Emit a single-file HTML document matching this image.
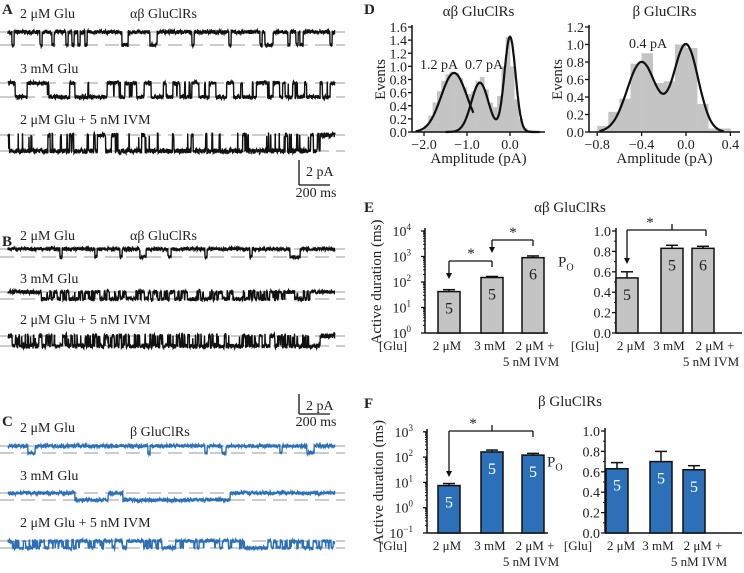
<!DOCTYPE html>
<html><head><meta charset="utf-8"><style>
body{margin:0;background:#fff}
svg{display:block;font-family:"Liberation Serif",serif}
text{fill:#222}
</style></head><body>
<svg id="fig" width="744" height="573" viewBox="0 0 744 573" xmlns="http://www.w3.org/2000/svg"></svg>
<script>
// ---------- DATA ----------
const traceRows = [
 {label:"2 μM Glu", ly:18, y0:32, y1:45, color:"#111", noise:4, sw:0.1, segs:[[12,14,1],[40,42,1],[52,54,1],[66,68,1],[72,74,1],[78,80,1],[85,87,1],[122,128,1],[150,157,1],[192,194,1],[229,231,1],[260,262,1],[265,273,1],[288,290,1],[296,298,1],[300,303,1],[330,332,1]]},
 {label:"3 mM Glu", ly:73, y0:83, y1:97, color:"#111", noise:4, sw:0.12, segs:[[10,27,0.9],[45,100,0.6],[100,133,0.3],[133,145,0.9],[145,155,0.5],[155,210,0.55],[210,270,0.7],[270,300,0.6],[300,322,0.5],[322,330,0.8]]},
 {label:"2 μM Glu + 5 nM IVM", ly:124, y0:135, y1:151, color:"#111", noise:5, sw:0.3, segs:[[8,97,0.85],[97,103,0.2],[103,118,0.4],[118,320,0.85]]},
 {label:"2 μM Glu", ly:240, y0:249, y1:257, color:"#111", noise:3.5, sw:0.1, segs:[[60,62,1],[95,97,1],[120,122,1],[140,146,1],[168,171,1],[205,207,1],[250,252,1],[290,300,1]]},
 {label:"3 mM Glu", ly:283, y0:292, y1:299, color:"#111", noise:4, sw:0.25, segs:[[40,120,0.6],[120,160,0.4],[160,310,0.55]]},
 {label:"2 μM Glu + 5 nM IVM", ly:324, y0:336, y1:346, color:"#111", noise:5, sw:0.35, segs:[[8,320,0.7]]},
 {label:"2 μM Glu", ly:432, y0:446, y1:453, color:"#2b70b8", noise:3.5, sw:0.1, segs:[[28,35,1],[148,150,1],[205,207,1],[222,226,1],[280,282,1],[307,314,1]]},
 {label:"3 mM Glu", ly:480, y0:493, y1:500, color:"#2b70b8", noise:3.5, sw:0.1, segs:[[75,108,1],[123,230,1]]},
 {label:"2 μM Glu + 5 nM IVM", ly:527, y0:541, y1:548, color:"#2b70b8", noise:3.5, sw:0.3, segs:[[12,70,0.5],[70,120,0.35],[120,160,0.3],[160,180,0.9],[180,245,0.2],[245,265,1],[265,300,0.3],[300,333,0.5]]}
];
const histLeftBins = [-2.2,-2.1,-2.0,-1.9,-1.8,-1.7,-1.6,-1.5,-1.4,-1.3,-1.2,-1.1,-1.0,-0.9,-0.8,-0.7,-0.6,-0.5,-0.4,-0.3,-0.2,-0.1,0.0,0.1,0.2,0.3,0.4,0.5];
const histLeftVals = [0.0,0.02,0.1,0.25,0.45,0.62,0.78,0.88,0.92,0.9,0.82,0.68,0.58,0.62,0.78,0.84,0.65,0.45,0.38,0.55,1.0,1.45,1.0,0.5,0.2,0.06,0.03,0.02];
const histRightBins = [-0.8,-0.7,-0.6,-0.5,-0.4,-0.3,-0.2,-0.1,0.0,0.1,0.2,0.3];
const histRightVals = [0.07,0.23,0.38,0.78,0.9,0.56,0.58,1.0,0.96,0.32,0.04,0.04];
const fitLeftA = [[0.9,-1.3,0.3]];
const fitLeftB = [[0.75,-0.7,0.2],[1.45,0.0,0.13]];
const fitRight = [[0.8,-0.4,0.13],[1.0,0.0,0.11]];
const catLabels = ["2 μM","3 mM","2 μM +"];
const durAB = [42,150,900], durABerr = [50,165,1050], nAB=[5,5,6];
const poAB = [0.54,0.83,0.83], poABerr = [0.60,0.86,0.85];
const durB = [7.5,160,120], durBerr = [9,190,140], nB=[5,5,5];
const poB = [0.63,0.70,0.62], poBerr = [0.69,0.80,0.66];

// ---------- HELPERS ----------
const svg=document.getElementById('fig');const NS="http://www.w3.org/2000/svg";
function el(tag,attrs,parent){const e=document.createElementNS(NS,tag);for(const k in attrs)e.setAttribute(k,attrs[k]);(parent||svg).appendChild(e);return e;}
function txt(x,y,s,size,anchor,name,parent,extra){const t=el('text',Object.assign({x:x,y:y,'font-size':size,'text-anchor':anchor||'start'},extra||{}),parent);t.textContent=s;


return t;}
function line(x1,y1,x2,y2,w,c,parent,extra){return el('line',Object.assign({x1:x1,y1:y1,x2:x2,y2:y2,stroke:c||'#111','stroke-width':w||1.5},extra||{}),parent);}
let seed=12345;function rnd(){seed|=0;seed=seed+0x6D2B79F5|0;let t=Math.imul(seed^seed>>>15,1|seed);t=t+Math.imul(t^t>>>7,61|t)^t;return((t^t>>>14)>>>0)/4294967296;}

[["A",2,14],["B",2,246],["C",2,426],["D",364,14],["E",364,212],["F",364,408]].forEach(p=>{
 txt(p[1],p[2],p[0],15,'start','panel-letter-'+p[0].toLowerCase(),null,{'font-weight':'bold'});
});
txt(130,18,"αβ GluClRs",14,'start','trace-title-ab');
txt(130,240,"αβ GluClRs",14,'start','trace-title-ab-b');
txt(130,436,"β GluClRs",14,'start','trace-title-b');

// ---------- TRACES ----------
traceRows.forEach((r,i)=>{
 const g=el('g',{});
 
 
 line(0,r.y0,345,r.y0,1,'#999',g,{'stroke-dasharray':'14 7'});
 line(0,r.y1,345,r.y1,1,'#999',g,{'stroke-dasharray':'14 7'});
 txt(20,r.ly,r.label,14,'start','trace-label',g);
 let pts=[],state=0;
 for(let x=8;x<=335;x+=0.25){
  let p=0;r.segs.forEach(s=>{if(x>=s[0]&&x<=s[1])p=s[2];});
  if(p===1)state=1;else if(p===0)state=0;else if(rnd()<r.sw)state=rnd()<p?1:0;
  const y=(state?r.y1:r.y0)+r.noise*(rnd()-0.5);
  pts.push(x.toFixed(2)+','+y.toFixed(1));
 }
 const pl=el('polyline',{points:pts.join(' '),fill:'none',stroke:r.color,'stroke-width':1.4},g);
 
 
});
[[160,185,197,"a"],[394,414,426,"b"]].forEach(s=>{
 const g=el('g',{});
 
 
 line(299,s[0],299,s[1],1.3,'#111',g);line(299,s[1],330,s[1],1.3,'#111',g);
 txt(306,s[0]+16,"2 pA",14,'start','scale-label-pa',g);
 txt(316,s[2],"200 ms",14,'middle','scale-label-ms',g);
});

// ---------- D HISTOGRAMS ----------
function gauss(arr,x){return arr.reduce((a,g)=>a+g[0]*Math.exp(-0.5*((x-g[1])/g[2])**2),0);}
function histPanel(o){
 const g=el('g',{});
 
 
 const X=v=>o.x0+(v-o.xmin)*o.xs, Y=v=>o.yb-(v/o.ymax)*(o.yb-o.yt);
 o.bins.forEach((b,i)=>{const r=el('rect',{x:X(b),y:Y(o.vals[i]),width:X(b+o.bw)-X(b)+0.3,height:o.yb-Y(o.vals[i]),fill:'#c4c4c4'},g);
  
  });
 o.fits.forEach(f=>{let pts=[];for(let x=f.from;x<=f.to;x+=0.01)pts.push(X(x).toFixed(1)+','+Y(gauss(f.p,x)).toFixed(1));
  const p=el('polyline',{points:pts.join(' '),fill:'none',stroke:'#111','stroke-width':2.2},g);
  
  });
 line(o.ax,o.yt-2,o.ax,o.yb,1.5,'#111',g);line(o.ax,o.yb,o.axEnd,o.yb,1.5,'#111',g);
 for(let v=0;v<=o.ymax+1e-9;v+=0.2){line(o.ax-4,Y(v),o.ax,Y(v),1.3,'#111',g);txt(o.ax-5,Y(v)+5,v.toFixed(1),14,'end','y-tick-label',g);}
 o.xt.forEach(v=>{line(X(v),o.yb,X(v),o.yb+4,1.3,'#111',g);txt(X(v),o.yb+17,(v<0?'−':'')+Math.abs(v).toFixed(1),14,'middle','x-tick-label',g);});
 txt((o.ax+o.axEnd)/2,o.yb+31,"Amplitude (pA)",15,'middle','x-axis-title',g);
 txt(o.ax-27,(o.yt+o.yb)/2,"Events",15,'middle','y-axis-title',g,{transform:`rotate(-90 ${o.ax-27} ${(o.yt+o.yb)/2})`});
 txt((o.ax+o.axEnd)/2,16,o.title,15,'middle','panel-title',g);
 o.ann.forEach(a=>txt(a[0],a[1],a[2],14,'start','peak-annotation',g));
}
histPanel({name:'histogram-ab',x0:510,xmin:0,xs:43,yb:132,yt:27,ymax:1.6,ax:412,axEnd:545,bins:histLeftBins,vals:histLeftVals,bw:0.1,
 fits:[{p:fitLeftA,from:-2.2,to:-0.85},{p:fitLeftB,from:-1.5,to:0.7}],xt:[-2,-1,0],title:"αβ GluClRs",ann:[[420,69,"1.2 pA"],[465,69,"0.7 pA"]]});
histPanel({name:'histogram-b',x0:686,xmin:0,xs:111,yb:132,yt:27,ymax:1.2,ax:589,axEnd:740,bins:histRightBins,vals:histRightVals,bw:0.1,
 fits:[{p:fitRight,from:-0.78,to:0.35}],xt:[-0.8,-0.4,0,0.4],title:"β GluClRs",ann:[[629,48,"0.4 pA"]]});

// ---------- BAR PANELS ----------
function barPanel(o){
 const g=el('g',{});
 
 
 const Y=o.log? v=>o.yb-(Math.log10(v)-o.lmin)*o.dec : v=>o.yb-v*(o.yb-o.yt);
 line(o.ax,o.yt-3,o.ax,o.yb,1.5,'#111',g);line(o.ax,o.yb,o.axEnd,o.yb,1.5,'#111',g);
 if(o.log){for(let e=o.lmin;e<=o.lmax;e++){line(o.ax-4,Y(10**e),o.ax,Y(10**e),1.3,'#111',g);
   const t=txt(o.ax-14,Y(10**e)+5,"10",14,'end','y-tick-label',g);const ts=el('tspan',{'font-size':9,dy:-6},t);ts.textContent=(e<0?'−':'')+Math.abs(e);
   for(let m=2;m<10;m++){if(e<o.lmax)line(o.ax-2,Y(m*10**e),o.ax,Y(m*10**e),1,'#111',g);}}
  txt(o.ax-44,(o.yt+o.yb)/2,"Active duration (ms)",15,'middle','y-axis-title',g,{transform:`rotate(-90 ${o.ax-44} ${(o.yt+o.yb)/2})`});
 } else {for(let v=0;v<=1.0001;v+=0.2){line(o.ax-4,Y(v),o.ax,Y(v),1.3,'#111',g);txt(o.ax-5,Y(v)+5,v.toFixed(1),14,'end','y-tick-label',g);}
  for(let v=0.1;v<1;v+=0.2)line(o.ax-2,Y(v),o.ax,Y(v),1,'#111',g);
  const t=txt(o.ax-58,Y(0.7)+5,"P",15,'start','y-axis-title',g);const s=el('tspan',{'font-size':10,dy:4},t);s.textContent="O";}
 o.vals.forEach((v,i)=>{const cx=o.cx[i];
  line(cx,Y(v),cx,Y(o.err[i]),1.5,'#111',g);line(cx-6,Y(o.err[i]),cx+6,Y(o.err[i]),1.5,'#111',g);
  const r=el('rect',{x:cx-11,y:Y(v),width:22,height:o.yb-Y(v),fill:o.fill,stroke:'#111','stroke-width':1.5},g);
  
  
  txt(cx,Y(v)+22,o.n[i],16,'middle','n-label',g,{style:'fill:'+o.nc});
 });
 txt(o.glu,o.yb+17,"[Glu]",13,'middle','cat-prefix',g);
 catLabels.forEach((c,i)=>txt(o.lx[i],o.yb+17,c,13,'middle','category-label',g));
 txt(o.lx[2]-4,o.yb+33,"5 nM IVM",13,'middle','category-label-2',g);
 o.br.forEach(b=>{
  line(b.x1,b.y,b.x2,b.y,1.3,'#111',g);
  line(b.x1,b.y,b.x1,b.a-5,1.3,'#111',g);
  el('polygon',{points:`${b.x1-3},${b.a-6} ${b.x1+3},${b.a-6} ${b.x1},${b.a}`,fill:'#111'},g);
  line(b.x2,b.y,b.x2,b.y+6,1.3,'#111',g);
  if(b.m)line(b.m,b.y,b.m,b.y-6,1.3,'#111',g);
  txt(b.s,b.y-3,"*",15,'middle','significance-star',g);
 });
 if(o.title)txt(570,o.ty,o.title,15,'middle','panel-title',g);
}
barPanel({name:'duration-ab',log:true,lmin:0,lmax:4,dec:25.5,yb:333,yt:231,ax:425,axEnd:548,cx:[449,492,533],vals:durAB,err:durABerr,n:nAB,fill:'#c4c4c4',nc:'#222',glu:393,lx:[447,490,535],
 br:[{x1:449,x2:492,y:261,a:279,s:471},{x1:492,x2:533,y:240,a:253,s:513}],title:"αβ GluClRs",ty:212});
barPanel({name:'po-ab',log:false,yb:333,yt:231,ax:616,axEnd:742,cx:[627,672,703],vals:poAB,err:poABerr,n:nAB,fill:'#c4c4c4',nc:'#222',glu:585,lx:[631,669,715],
 br:[{x1:627,x2:706,y:230,a:264,s:650,m:672}]});
barPanel({name:'duration-b',log:true,lmin:-1,lmax:3,dec:25.3,yb:533,yt:432,ax:427,axEnd:548,cx:[449,492,533],vals:durB,err:durBerr,n:nB,fill:'#2b70b8',nc:'#fff',glu:393,lx:[447,490,535],
 br:[{x1:449,x2:533,y:431,a:477,s:473,m:492}],title:"β GluClRs",ty:406});
barPanel({name:'po-b',log:false,yb:533,yt:431,ax:605,axEnd:742,cx:[617,661,694],vals:poB,err:poBerr,n:nB,fill:'#2b70b8',nc:'#fff',glu:578,lx:[621,658,703],br:[]});
</script>
</body></html>
